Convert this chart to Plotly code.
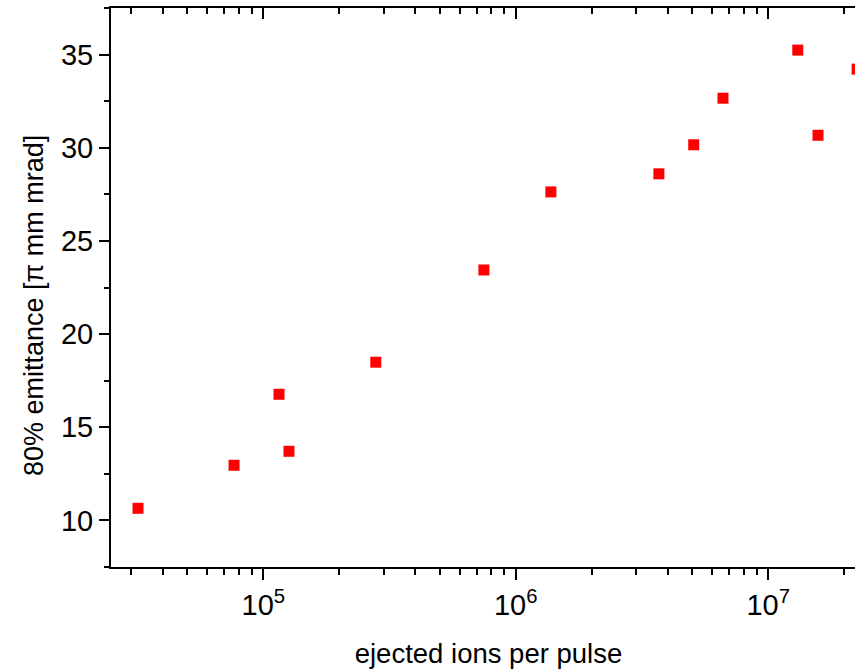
import plotly.graph_objects as go

# data
ions = [3.19e4, 7.66e4, 1.154e5, 1.264e5, 2.79e5, 7.48e5, 1.378e6,
        3.69e6, 5.07e6, 6.62e6, 1.31e7, 1.575e7, 2.25e7]
emittance = [10.65, 12.96, 16.77, 13.71, 18.49, 23.44, 27.63,
             28.60, 30.16, 32.66, 35.24, 30.67, 34.22]

x_tickvals = [1e5, 1e6, 1e7]
x_ticktext = ["10<sup>5</sup>", "10<sup>6</sup>", "10<sup>7</sup>"]
x_minor = [k * 10 ** e for e in (4, 5, 6, 7) for k in range(2, 10)]
y_tickvals = [10, 15, 20, 25, 30, 35]
x_title = "ejected ions per pulse"
y_title = "80% emittance [π mm mrad]"

FONT = "Liberation Sans, Arial, sans-serif"
# figure is a bit wider than the window; the window crops it like the reference
xrange_log = [4.3968, 7.3874]

fig = go.Figure()
fig.add_trace(go.Scatter(
    x=ions, y=emittance, mode="markers",
    marker=dict(symbol="square", size=11, color="#ff0000", line=dict(width=0)),
    cliponaxis=False, showlegend=False, xaxis="x", yaxis="y"))
# invisible trace so the top (mirror) axis is drawn
fig.add_trace(go.Scatter(
    x=ions, y=emittance, mode="markers", marker=dict(opacity=0),
    hoverinfo="skip", showlegend=False, xaxis="x2", yaxis="y"))

fig.update_layout(
    width=866, height=669,
    margin=dict(l=111, r=0, t=8, b=102, autoexpand=False),
    paper_bgcolor="white", plot_bgcolor="white",
    font=dict(family=FONT, color="black", size=28),
    xaxis=dict(
        type="log", range=xrange_log, automargin=False,
        showgrid=False, zeroline=False,
        showline=True, linecolor="black", linewidth=2,
        ticks="outside", ticklen=11, tickwidth=2, tickcolor="black",
        tickvals=x_tickvals, ticktext=x_ticktext,
        tickfont=dict(size=29),
        minor=dict(tickvals=x_minor, ticks="outside", ticklen=6,
                   tickwidth=2, tickcolor="black", showgrid=False),
        title=dict(text=x_title, font=dict(size=27.5), standoff=26),
    ),
    xaxis2=dict(
        type="log", range=xrange_log, overlaying="x", side="top", automargin=False,
        showgrid=False, zeroline=False,
        showline=True, linecolor="black", linewidth=2,
        ticks="inside", ticklen=11, tickwidth=2, tickcolor="black",
        tickvals=x_tickvals, showticklabels=False,
        minor=dict(tickvals=x_minor, ticks="inside", ticklen=6,
                   tickwidth=2, tickcolor="black", showgrid=False),
    ),
    yaxis=dict(
        range=[7.5, 37.5], automargin=False,
        showgrid=False, zeroline=False,
        showline=True, linecolor="black", linewidth=2,
        ticks="outside", ticklen=10, tickwidth=2, tickcolor="black",
        tickvals=y_tickvals, tickfont=dict(size=29),
        minor=dict(dtick=2.5, tick0=7.5, ticks="outside", ticklen=5,
                   tickwidth=2, tickcolor="black", showgrid=False),
    ),
    annotations=[dict(
        text=y_title, textangle=-90, showarrow=False,
        xref="paper", yref="paper", x=-0.102, y=0.4687,
        xanchor="center", yanchor="middle",
        font=dict(size=27, family=FONT, color="black"),
    )],
)

fig.write_html("out.html",
               config={"displayModeBar": False},
               post_script="document.body.style.margin='0';document.body.style.overflow='hidden';")
